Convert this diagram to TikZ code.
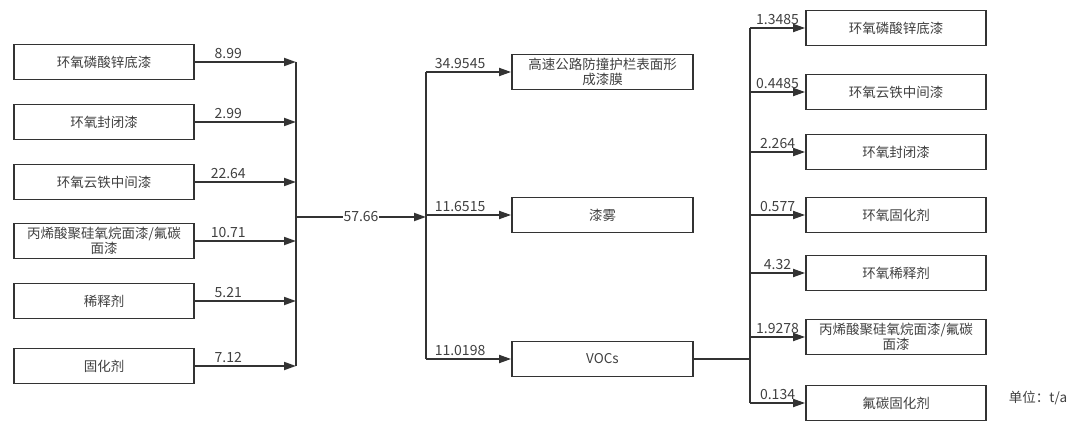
\documentclass[tikz,border=0pt]{standalone}
\usepackage{fontspec}
\setmainfont{Noto Sans CJK SC}
\usetikzlibrary{arrows.meta}
\definecolor{ln}{HTML}{333333}
\definecolor{tx}{HTML}{404040}
\begin{document}
\begin{tikzpicture}[x=1pt,y=-1pt,
 box/.style={draw=ln, line width=1.8pt, minimum width=180pt, minimum height=35pt, inner sep=1pt, align=center, text=tx, font=\fontsize{13.5}{15.5}\selectfont},
 arr/.style={draw=ln, line width=1.8pt, -{Triangle[length=12pt,width=8pt]}},
 bus/.style={draw=ln, line width=1.8pt},
 num/.style={text=tx, font=\fontsize{14}{16}\selectfont, inner sep=2.5pt, above}]
\useasboundingbox (0,0) rectangle (1078,422);
% left boxes
\node[box] (L1) at (104,62) {环氧磷酸锌底漆};
\node[box] (L2) at (104,122) {环氧封闭漆};
\node[box] (L3) at (104,182) {环氧云铁中间漆};
\node[box] (L4) at (104,241) {丙烯酸聚硅氧烷面漆/氟碳\\面漆};
\node[box] (L5) at (104,301) {稀释剂};
\node[box] (L6) at (104,366) {固化剂};
\coordinate (bx) at (296,0);
\draw[bus] (L1.east -| bx) -- (L6.east -| bx);
\draw[arr] (L1.east) -- (L1.east -| bx) node[num,pos=0.33] {8.99};
\draw[arr] (L2.east) -- (L2.east -| bx) node[num,pos=0.33] {2.99};
\draw[arr] (L3.east) -- (L3.east -| bx) node[num,pos=0.33] {22.64};
\draw[arr] (L4.east) -- (L4.east -| bx) node[num,pos=0.33] {10.71};
\draw[arr] (L5.east) -- (L5.east -| bx) node[num,pos=0.33] {5.21};
\draw[arr] (L6.east) -- (L6.east -| bx) node[num,pos=0.33] {7.12};
% middle
\coordinate (j) at (296,217);
\coordinate (m) at (426,0);
\node[box, minimum width=181pt] (M1) at (602.5,72) {高速公路防撞护栏表面形\\成漆膜};
\node[box, minimum width=181pt] (M2) at (602.5,215) {漆雾};
\node[box, minimum width=181pt] (M3) at (602.5,359) {VOCs};
\draw[arr] (j) -- (j -| m) node[midway, fill=white, text=tx, inner sep=1pt, font=\fontsize{14}{16}\selectfont] {57.66};
\draw[bus] (M1.west -| m) -- (M3.west -| m);
\draw[arr] (M1.west -| m) -- (M1.west) node[num,pos=0.4] {34.9545};
\draw[arr] (M2.west -| m) -- (M2.west) node[num,pos=0.4] {11.6515};
\draw[arr] (M3.west -| m) -- (M3.west) node[num,pos=0.4] {11.0198};
% right
\coordinate (r) at (750,0);
\node[box] (R1) at (896,28) {环氧磷酸锌底漆};
\node[box] (R2) at (896,92) {环氧云铁中间漆};
\node[box] (R3) at (896,152) {环氧封闭漆};
\node[box] (R4) at (896,215) {环氧固化剂};
\node[box] (R5) at (896,273) {环氧稀释剂};
\node[box] (R6) at (896,337) {丙烯酸聚硅氧烷面漆/氟碳\\面漆};
\node[box] (R7) at (896,403) {氟碳固化剂};
\draw[bus] (M3.east) -- (M3.east -| r);
\draw[bus] (R1.west -| r) -- (R7.west -| r);
\draw[arr] (R1.west -| r) -- (R1.west) node[num,midway] {1.3485};
\draw[arr] (R2.west -| r) -- (R2.west) node[num,midway] {0.4485};
\draw[arr] (R3.west -| r) -- (R3.west) node[num,midway] {2.264};
\draw[arr] (R4.west -| r) -- (R4.west) node[num,midway] {0.577};
\draw[arr] (R5.west -| r) -- (R5.west) node[num,midway] {4.32};
\draw[arr] (R6.west -| r) -- (R6.west) node[num,midway] {1.9278};
\draw[arr] (R7.west -| r) -- (R7.west) node[num,midway] {0.134};
\node[text=tx, font=\fontsize{13.5}{15}\selectfont, inner sep=0pt] (unit) at (1038,398) {单位：t/a};
\end{tikzpicture}
\end{document}
